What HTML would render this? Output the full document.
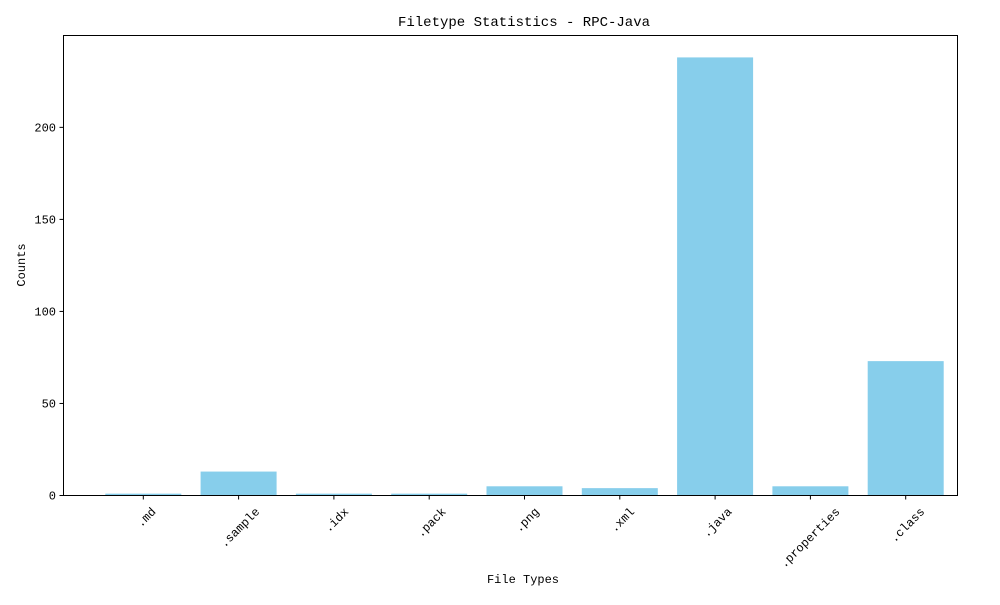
<!DOCTYPE html>
<html><head><meta charset="utf-8"><style>
body{margin:0;background:#fff}
text{font-family:"WenQuanYi Zen Hei","Liberation Mono",monospace;fill:#000}
</style></head><body>
<svg id="chart" width="1000" height="600" xmlns="http://www.w3.org/2000/svg">
<rect width="1000" height="600" fill="#fff"/>
<text x="524" y="26" text-anchor="middle" font-size="14">Filetype Statistics - RPC-Java</text>
<g id="bars"></g><g id="yticks"></g><g id="xticks"></g>
<rect x="63.5" y="35.5" width="894" height="460" fill="none" stroke="#000" stroke-width="1"/>
<text x="523" y="583" text-anchor="middle" font-size="12">File Types</text>
<text transform="translate(25,265) rotate(-90)" text-anchor="middle" font-size="12">Counts</text>
</svg>
<script>
const categories=[".md",".sample",".idx",".pack",".png",".xml",".java",".properties",".class"];
const counts=[1,13,1,1,5,4,238,5,73];
const yTicks=[0,50,100,150,200];
const NS="http://www.w3.org/2000/svg";
const x0=143.3, step=95.3, bw=76;
const yMax=249.9, yTop=35.5, yBottom=495.5;
function xs(i){return x0+i*step;}
function ys(v){return yBottom-(v/yMax)*(yBottom-yTop);}
const bars=document.getElementById('bars'),yt=document.getElementById('yticks'),xt=document.getElementById('xticks');
categories.forEach((c,i)=>{
  const r=document.createElementNS(NS,'rect');
  
  
  r.setAttribute('x',xs(i)-bw/2);r.setAttribute('width',bw);
  r.setAttribute('y',ys(counts[i]));r.setAttribute('height',yBottom-ys(counts[i]));
  r.setAttribute('fill','#87ceeb');bars.appendChild(r);
  const l=document.createElementNS(NS,'line');
  
  
  l.setAttribute('x1',xs(i));l.setAttribute('x2',xs(i));l.setAttribute('y1',yBottom);l.setAttribute('y2',yBottom+4);
  l.setAttribute('stroke','#000');xt.appendChild(l);
  const t=document.createElementNS(NS,'text');
  
  
  t.setAttribute('font-size','12');t.setAttribute('text-anchor','end');
  const w=c.length*6*0.7071;
  t.setAttribute('transform','translate('+(xs(i)+w/2)+','+(yBottom+10)+') rotate(-45)');
  t.setAttribute('dy','0.8em');
  t.textContent=c;xt.appendChild(t);
});
yTicks.forEach(v=>{
  const l=document.createElementNS(NS,'line');
  
  
  l.setAttribute('x1',59.5);l.setAttribute('x2',63.5);l.setAttribute('y1',ys(v));l.setAttribute('y2',ys(v));
  l.setAttribute('stroke','#000');yt.appendChild(l);
  const t=document.createElementNS(NS,'text');
  
  
  t.setAttribute('x',56);t.setAttribute('y',ys(v)+4);t.setAttribute('font-size','12');t.setAttribute('text-anchor','end');
  t.textContent=v;yt.appendChild(t);
});
</script>
</body></html>
